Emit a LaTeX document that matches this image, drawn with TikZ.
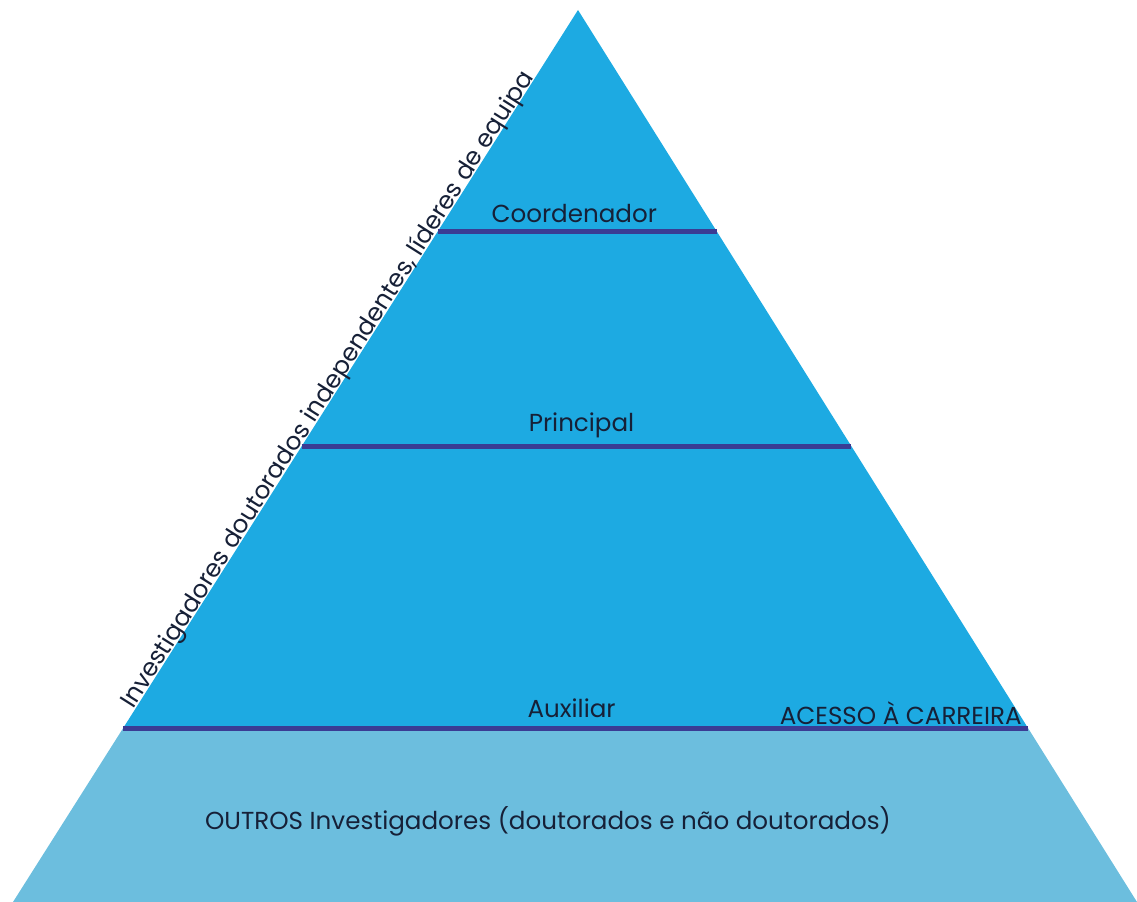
\documentclass[tikz,border=0pt]{standalone}
\usepackage{fontspec}
\setmainfont{Poppins}
\usetikzlibrary{calc, positioning}
\definecolor{Upper}{RGB}{29, 170, 226}
\definecolor{Lower}{RGB}{108, 190, 222}
\definecolor{Rule}{RGB}{58, 60, 148}
\definecolor{Ink}{RGB}{22, 32, 55}

\begin{document}
\begin{tikzpicture}[x=0.02cm, y=-0.02cm,
        level/.style={draw=Rule, line width=2.8pt},
        tag/.style={font=\fontsize{14}{16}\selectfont, text=Ink, inner sep=0pt}]
        \useasboundingbox (0,0) rectangle (1137,902);

        % Pyramid corners
        \coordinate (apex) at (578,10);
        \coordinate (baseL) at (13,902);
        \coordinate (baseR) at (1137,902);

        % Level ends on both sides
        \coordinate (coordL) at ($(apex)!0.248!(baseL)$);
        \coordinate (coordR) at ($(apex)!0.248!(baseR)$);
        \coordinate (princL) at ($(apex)!0.489!(baseL)$);
        \coordinate (princR) at ($(apex)!0.489!(baseR)$);
        \coordinate (auxL) at ($(apex)!0.805!(baseL)$);
        \coordinate (auxR) at ($(apex)!0.805!(baseR)$);

        % Fills
        \fill[Upper] (apex) -- (auxR) -- (auxL) -- cycle;
        \fill[Lower] (auxL) -- (auxR) -- (baseR) -- (baseL) -- cycle;

        % Levels
        \draw[level] (coordL) -- (coordR);
        \draw[level] (princL) -- (princR);
        \draw[level] (auxL) -- (auxR);

        % Labels
        \node[tag, anchor=base] (coord) at ($(coordL)!0.5!(coordR)+(-3,-9)$) {Coordenador};
        \node[tag, anchor=base] (princ) at ($(princL)!0.5!(princR)+(5,-15)$) {Principal};
        \node[tag, anchor=base] (aux) at ($(auxL)!0.5!(auxR)+(-4,-11)$) {Auxiliar};
        \node[tag, anchor=base east] (acesso) at ($(auxR)+(-6,-4)$) {ACESSO À CARREIRA};
        \node[tag, anchor=base] (outros) at (548,829) {OUTROS Investigadores (doutorados e não doutorados)};

        % Side label along the left edge
        \coordinate (sideMid) at ($(apex)!0.535!(auxL)+(5,3)$);
        \node[tag, anchor=south, rotate=57.65] (side) at (sideMid)
            {Investigadores doutorados independentes, líderes de equipa};
    \end{tikzpicture}
\end{document}
